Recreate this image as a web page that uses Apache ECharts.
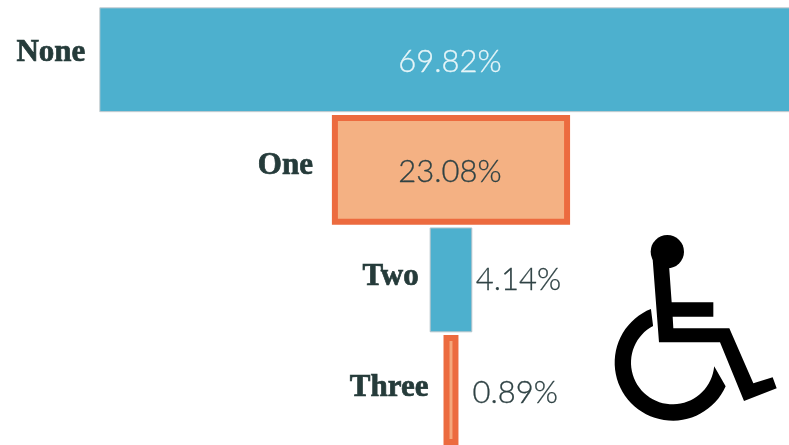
<!DOCTYPE html>
<html>
<head>
<meta charset="utf-8">
<style>
  html, body { margin: 0; padding: 0; background: #fff; }
  #chart { width: 789px; height: 445px; }
</style>
<script src="https://cdn.jsdelivr.net/npm/echarts@6/dist/echarts.min.js"></script>
</head>
<body>
<div id="chart"></div>
<script>
var categories = ["None", "One", "Two", "Three"];
var percents = [69.82, 23.08, 4.14, 0.89];

// look of each row, same order as categories
var fills = ["#4db0ce", "#f4b183", "#4db0ce", "#f4a77c"];
var borders = ["#c9cdd0", "#ec6b3f", "#b5c4cb", "#ec6b3f"];
var borderWidths = [1, 6, 1, 6];
var nameGap = [14, 19, 11, 15];
var nameShift = [-6.5, -3.5, -2.5, -1.5];
var pctColors = ["#e6f5f8", "#2f4244", "#2f4244", "#2f4244"];
var pctShift = [2.5, 2, 0, 3];
var pctOutside = [null, null, 4, 17];

// wheelchair icon outline, drawn in its own 3x space
var iconBody = [
  [157, 90], [207, 120], [215, 232], [340, 232], [340, 275], [218, 275], [220, 310], [388, 310],
  [460, 475], [518, 457], [530, 490], [432, 528], [360, 352], [177, 352],
];

function arcPoints(r, from, to) {
  var pts = [];
  for (var k = 0; k <= 48; k++) {
    var a = ((from + ((to - from) * k) / 48) * Math.PI) / 180;
    pts.push([218 + r * Math.cos(a), 413 + r * Math.sin(a)]);
  }
  return pts;
}

function renderRow(params, api) {
  var i = params.dataIndex;
  var v = api.value(1);
  var left = api.coord([-v / 2, i]);
  var right = api.coord([v / 2, i]);
  var h = api.size([0, 1])[1] - 6.2;
  var mid = left[1];
  var bw = borderWidths[i];
  var pctX = pctOutside[i] === null ? (left[0] + right[0]) / 2 - 1 : right[0] + pctOutside[i];

  return {
    type: "group",
    children: [
      {
        type: "rect",
        shape: { x: left[0], y: mid - h / 2, width: right[0] - left[0], height: h },
        style: { fill: fills[i], stroke: borders[i], lineWidth: bw },
      },
      {
        type: "text",
        style: {
          x: left[0] - nameGap[i] - bw / 2,
          y: mid + nameShift[i],
          text: categories[i],
          fill: "#253b3a",
          stroke: "#253b3a",
          lineWidth: 0.7,
          font: "bold 31px 'Liberation Serif'",
          align: "right",
          verticalAlign: "middle",
        },
      },
      {
        type: "text",
        style: {
          x: pctX,
          y: mid + pctShift[i],
          text: v.toFixed(2) + "%",
          fill: pctColors[i],
          stroke: pctColors[i],
          lineWidth: 0.3,
          font: "300 31px Lato",
          align: pctOutside[i] === null ? "center" : "left",
          verticalAlign: "middle",
        },
      },
    ],
  };
}

// the icon is decoration, it has no value of its own
function renderIcon() {
  return {
    type: "group",
    x: 600,
    y: 225,
    scaleX: 1 / 3,
    scaleY: 1 / 3,
    children: [
      { type: "circle", shape: { cx: 202, cy: 80, r: 50 }, style: { fill: "#000" } },
      { type: "polygon", shape: { points: iconBody }, style: { fill: "#000" } },
      {
        type: "polygon",
        shape: { points: arcPoints(174, 24, 248).concat(arcPoints(125, 242, 5)) },
        style: { fill: "#000" },
      },
    ],
  };
}

var myChart = echarts.init(document.getElementById("chart"));
var option = {
  animation: false,
  backgroundColor: "#fff",
  grid: { left: 0, right: 0, top: 4.7, height: 443.6 },
  xAxis: { type: "value", min: -44.83, max: 33.6, show: false },
  yAxis: { type: "category", data: categories, inverse: true, show: false },
  series: [
    {
      type: "custom",
      renderItem: renderRow,
      encode: { x: 1, y: 0 },
      data: percents.map(function (p, i) {
        return [i, p];
      }),
    },
    {
      type: "custom",
      renderItem: renderIcon,
      data: [[0, 0]],
    },
  ],
};
myChart.setOption(option);
</script>
</body>
</html>
